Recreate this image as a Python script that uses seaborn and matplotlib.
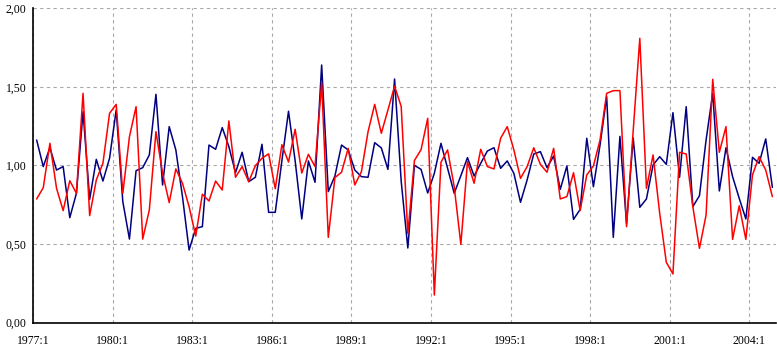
import numpy as np
import pandas as pd
import matplotlib
matplotlib.use("Agg")
import matplotlib.pyplot as plt
from matplotlib.ticker import FuncFormatter, FixedLocator
import seaborn as sns

# Quarterly index values, 1977:1 .. 2004:4
series_blue = [
    1.162, 0.993, 1.113, 0.971, 0.993, 0.668, 0.823, 1.342, 0.785, 1.039,
    0.901, 1.046, 1.353, 0.770, 0.532, 0.967, 0.986, 1.067, 1.453, 0.876,
    1.247, 1.099, 0.802, 0.462, 0.600, 0.611, 1.130, 1.103, 1.241, 1.120,
    0.954, 1.084, 0.897, 0.925, 1.135, 0.702, 0.702, 1.030, 1.345, 1.030,
    0.660, 1.029, 0.893, 1.639, 0.834, 0.933, 1.130, 1.099, 0.971, 0.929,
    0.925, 1.145, 1.112, 0.975, 1.550, 0.900, 0.475, 1.001, 0.975, 0.825,
    0.950, 1.141, 0.982, 0.823, 0.935, 1.050, 0.933, 1.014, 1.092, 1.113,
    0.982, 1.029, 0.950, 0.766, 0.908, 1.073, 1.088, 0.986, 1.060, 0.848,
    0.997, 0.657, 0.721, 1.173, 0.865, 1.130, 1.438, 0.543, 1.185, 0.630,
    1.175, 0.734, 0.787, 1.003, 1.056, 1.007, 1.336, 0.925, 1.374, 0.738,
    0.808, 1.162, 1.459, 0.838, 1.113, 0.929, 0.791, 0.660, 1.052, 1.014,
    1.169, 0.861,
]
series_red = [
    0.787, 0.859, 1.141, 0.855, 0.713, 0.903, 0.823, 1.459, 0.681, 0.908,
    1.014, 1.332, 1.389, 0.823, 1.183, 1.374, 0.532, 0.717, 1.215, 0.950,
    0.764, 0.978, 0.887, 0.738, 0.551, 0.817, 0.774, 0.901, 0.844, 1.283,
    0.925, 0.993, 0.897, 0.999, 1.046, 1.074, 0.852, 1.132, 1.022, 1.230,
    0.952, 1.071, 0.993, 1.523, 0.543, 0.923, 0.957, 1.109, 0.876, 0.961,
    1.215, 1.389, 1.205, 1.353, 1.504, 1.376, 0.568, 1.032, 1.101, 1.300,
    0.176, 1.020, 1.099, 0.865, 0.498, 1.024, 0.887, 1.103, 0.993, 0.978,
    1.173, 1.247, 1.099, 0.918, 0.993, 1.113, 1.007, 0.957, 1.109, 0.787,
    0.802, 0.954, 0.713, 0.940, 0.997, 1.162, 1.459, 1.476, 1.476, 0.611,
    1.220, 1.809, 0.855, 1.067, 0.696, 0.384, 0.310, 1.084, 1.073, 0.738,
    0.473, 0.685, 1.548, 1.084, 1.247, 0.530, 0.744, 0.530, 0.940, 1.056,
    0.971, 0.802,
]
start_year = 1977
n_quarters = len(series_blue)
quarter_labels = [f"{start_year + k // 4}:{k % 4 + 1}" for k in range(n_quarters)]
tick_step = 12
y_ticks = [0.0, 0.5, 1.0, 1.5, 2.0]

sns.set_style("white")
plt.rcParams["font.family"] = ["Liberation Serif", "DejaVu Serif"]

df = pd.DataFrame({
    "pos": np.concatenate([np.arange(n_quarters) + 0.5] * 2),
    "value": series_blue + series_red,
    "series": ["A"] * n_quarters + ["B"] * n_quarters,
})

fig = plt.figure(figsize=(7.77, 3.57), dpi=100)
ax = fig.add_axes([0.0429, 0.0961, 0.9554, 0.8807])

sns.lineplot(data=df, x="pos", y="value", hue="series",
             palette={"A": "#000080", "B": "#FF0000"},
             linewidth=1.1, legend=False, ax=ax, sort=False)

ax.set_xlim(0, n_quarters)
ax.set_ylim(0, 2.0)
tick_pos = list(range(0, n_quarters, tick_step))
ax.xaxis.set_major_locator(FixedLocator(tick_pos))
ax.set_xticklabels([quarter_labels[p] for p in tick_pos])
ax.set_yticks(y_ticks)
ax.yaxis.set_major_formatter(FuncFormatter(lambda v, p: f"{v:.2f}".replace(".", ",")))

ax.set_xlabel("")
ax.set_ylabel("")
ax.grid(True, axis="both", color="#a8a8a8", linestyle=(0, (3, 3)), linewidth=0.8)
ax.set_axisbelow(True)

for s in ["top", "right"]:
    ax.spines[s].set_visible(False)
for s in ["left", "bottom"]:
    ax.spines[s].set_color("black")
    ax.spines[s].set_linewidth(1.2)

ax.tick_params(axis="both", direction="inout", length=6, width=1, color="black",
               labelsize=8.5, labelcolor="black")
ax.tick_params(axis="x", pad=6)
ax.tick_params(axis="y", pad=2)

fig.savefig("out.png", dpi=100)
